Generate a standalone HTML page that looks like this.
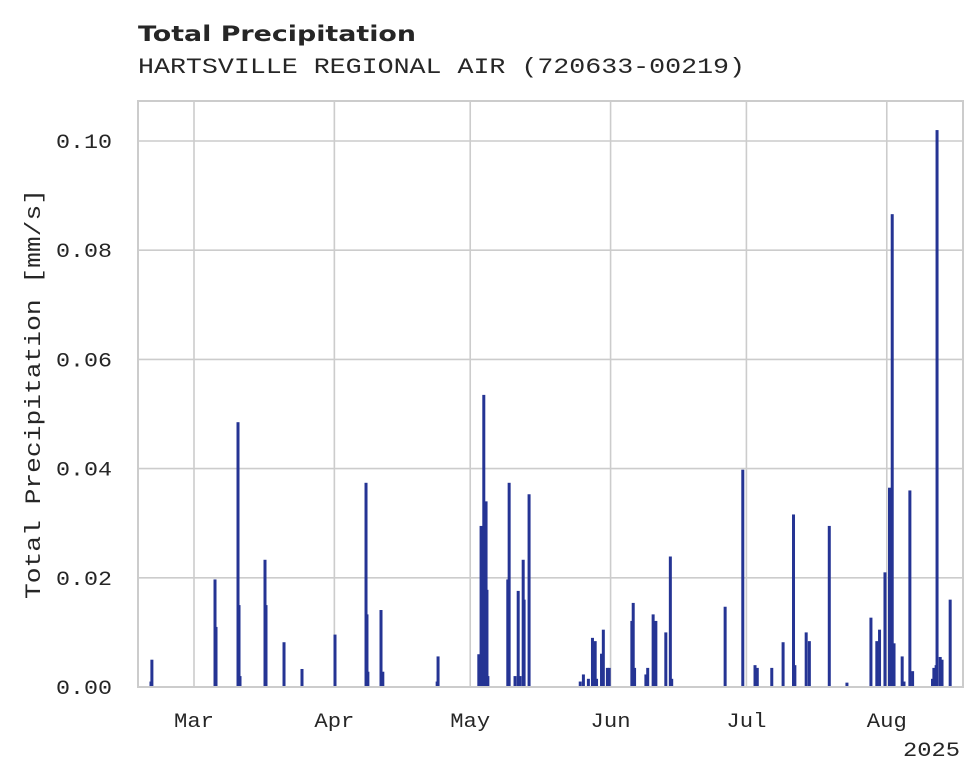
<!DOCTYPE html>
<html><head><meta charset="utf-8"><style>
html,body{margin:0;padding:0;background:#fff;}
svg{display:block;}
.tick{font-family:"Liberation Mono",monospace;font-size:20px;fill:#262626;}
</style></head><body>
<svg id="chart" width="980" height="783" viewBox="0 0 980 783" xmlns="http://www.w3.org/2000/svg">
<text x="138" y="41" font-family="DejaVu Sans, sans-serif" font-weight="bold" font-size="21" fill="#262626" textLength="278" lengthAdjust="spacingAndGlyphs">Total Precipitation</text>
<text x="138" y="73" font-family="Liberation Mono, monospace" font-size="22" fill="#262626" textLength="607" lengthAdjust="spacingAndGlyphs">HARTSVILLE REGIONAL AIR (720633-00219)</text>
<g id="grid"></g>
<g id="bars"></g>
<rect x="138" y="101" width="825" height="586" fill="none" stroke="#cccccc" stroke-width="2"/>
<g id="axes"></g>
<text transform="translate(40,394) rotate(-90)" text-anchor="middle" font-family="Liberation Mono, monospace" font-size="22" fill="#262626" textLength="410" lengthAdjust="spacingAndGlyphs">Total Precipitation [mm/s]</text>
<text class="tick" x="960" y="756" text-anchor="end" textLength="57" lengthAdjust="spacingAndGlyphs">2025</text>
</svg>
<script>
// day offsets from Mar 1 (fractional) and values
const days = [-9.5,-9.3,4.64,4.86,9.72,9.94,10.16,15.68,15.9,19.88,23.85,31.14,37.99,38.2,38.4,41.3,41.7,53.7,53.9,
 62.9,63.4,64.0,64.5,64.7,64.9,69.3,69.6,70.9,71.6,72.0,72.7,72.9,74.0,
 85.3,86.0,87.1,88.0,88.6,88.9,90.0,90.4,91.3,91.7,
 96.7,97.0,97.3,99.8,100.2,101.4,102.0,104.2,105.2,105.5,
 117.3,121.2,123.9,124.4,127.6,130.1,132.4,132.7,135.2,135.9,140.3,144.2,
 149.5,150.8,151.4,152.6,153.6,154.2,154.6,156.4,156.8,158.1,158.7,
 163.1,163.4,163.9,164.1,164.8,165.2,167.0];
const values = [0.001,0.005,0.0197,0.011,0.0485,0.015,0.002,0.0233,0.015,0.0082,0.0033,0.0096,0.0374,0.0133,0.0028,0.0141,0.0028,0.001,0.0056,
 0.006,0.0295,0.0535,0.034,0.0178,0.002,0.0197,0.0374,0.002,0.0176,0.002,0.0233,0.016,0.0353,
 0.001,0.0023,0.0015,0.009,0.0084,0.0015,0.0061,0.0105,0.0035,0.0035,
 0.0121,0.0154,0.0035,0.0023,0.0035,0.0133,0.0121,0.0100,0.0239,0.0015,
 0.0147,0.0398,0.004,0.0035,0.0035,0.0082,0.0316,0.004,0.0100,0.0084,0.0295,0.0008,
 0.0127,0.0084,0.0105,0.021,0.0365,0.0866,0.008,0.0056,0.001,0.036,0.0029,
 0.0015,0.0035,0.004,0.102,0.0055,0.005,0.016];
const yTicks = [0,0.02,0.04,0.06,0.08,0.10];
const yTickLabels = ["0.00","0.02","0.04","0.06","0.08","0.10"];
const monthDays = [0,31,61,92,122,153];
const monthLabels = ["Mar","Apr","May","Jun","Jul","Aug"];

const NS="http://www.w3.org/2000/svg";
const X0=194, PXD=4.528, Y0=687, PYU=5460;
function xs(d){return X0+d*PXD;}
function ys(v){return Y0-v*PYU;}
function mk(t,a,p){const e=document.createElementNS(NS,t);for(const k in a)e.setAttribute(k,a[k]);p.appendChild(e);return e;}
const grid=document.getElementById('grid'),bars=document.getElementById('bars'),axes=document.getElementById('axes');
yTicks.forEach((v,i)=>{
  const l=mk('line',{x1:138,x2:963,y1:ys(v),y2:ys(v),stroke:'#cccccc','stroke-width':1.6},grid);
  
  
  const t=mk('text',{x:112,y:ys(v)+7,'text-anchor':'end',class:'tick',textLength:56,lengthAdjust:'spacingAndGlyphs'},axes);
  t.textContent=yTickLabels[i];
  
  
});
monthDays.forEach((d,i)=>{
  const l=mk('line',{x1:xs(d),x2:xs(d),y1:101,y2:687,stroke:'#cccccc','stroke-width':1.6},grid);
  
  
  const t=mk('text',{x:xs(d),y:727,'text-anchor':'middle',class:'tick',textLength:40,lengthAdjust:'spacingAndGlyphs'},axes);
  t.textContent=monthLabels[i];
  
  
});
days.forEach((d,i)=>{
  const y=ys(values[i]);
  const r=mk('rect',{x:xs(d)-1.5,y:y,width:3,height:Y0-y,fill:'#253494'},bars);
  
  
});
</script>
</body></html>
